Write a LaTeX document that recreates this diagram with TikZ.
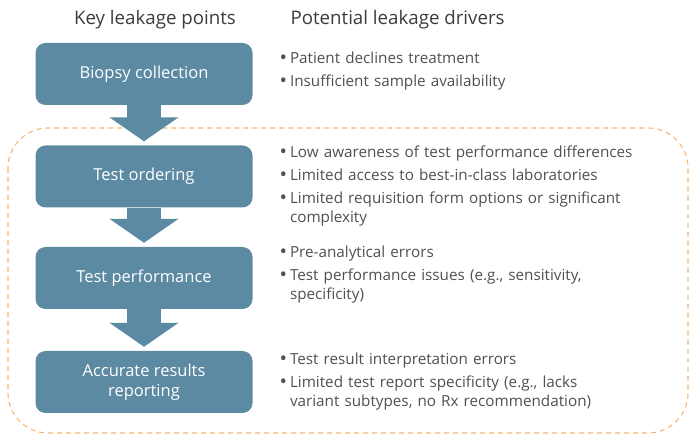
\documentclass[tikz,border=0pt]{standalone}
\usepackage{fontspec}
\setmainfont{Open Sans}
\usetikzlibrary{arrows.meta}
\definecolor{stepblue}{HTML}{5C8AA3}
\definecolor{dashorange}{HTML}{F6B46E}
\definecolor{txtgray}{HTML}{505050}
\definecolor{headgray}{HTML}{3C3C3C}
\newcommand{\drv}[1]{\hangindent=10.5pt\hangafter=1\noindent\makebox[10.5pt][l]{\raisebox{-0.4pt}{\scalebox{1.3}{\textbullet}}}#1\par\vspace{4.5pt}}

\begin{document}
\begin{tikzpicture}
[x=1pt,y=-1pt]
\tikzset{stepbox/.style={rectangle,rounded corners=10pt,fill=stepblue,text=white,
    minimum width=217pt,minimum height=62pt,align=center,font=\fontsize{16.5}{19.5}\selectfont},
  head/.style={anchor=base,text=headgray,font=\fontsize{18.7}{22}\selectfont},
  drivers/.style={anchor=base west,text=txtgray,text width=400pt,align=left,
    font=\fontsize{15.25}{18.5}\selectfont},
  flow/.style={draw=stepblue,line width=34pt,-{Triangle[length=24pt,width=68pt]},shorten >=4pt}}
\useasboundingbox (0,0) rectangle (689,435);

% dashed frame round the lab steps
\draw [dashorange,line width=1.1pt,dash pattern=on 5pt off 4pt,rounded corners=40pt] (8,128) rectangle (688,433);

\node [head] (h1) at (155,25) {Key leakage points};
\node [head,anchor=base west] (h2) at (287,25) {Potential leakage drivers};

\node [stepbox] (s1) at (144,74) {Biopsy collection};
\node [stepbox] (s2) at (144,176.5) {Test ordering};
\node [stepbox] (s3) at (144,278) {Test performance};
\node [stepbox] (s4) at (144,382) {Accurate results\\reporting};

\node [drivers] (d1) at (276,64) {\drv{Patient declines treatment}\drv{Insufficient sample availability}};
\node [drivers] (d2) at (276,158) {\drv{Low awareness of test performance differences}\drv{Limited access to best-in-class laboratories}\drv{Limited requisition form options or significant\newline complexity}};
\node [drivers] (d3) at (276,258) {\drv{Pre-analytical errors}\drv{Test performance issues (e.g., sensitivity,\newline specificity)}};
\node [drivers] (d4) at (276,365) {\drv{Test result interpretation errors}\drv{Limited test report specificity (e.g., lacks\newline variant subtypes, no Rx recommendation)}};

\foreach \from/\to in {s1/s2,s2/s3,s3/s4}
  \draw [flow] (\from.south) -- (\to.north);

\end{tikzpicture}
\end{document}
